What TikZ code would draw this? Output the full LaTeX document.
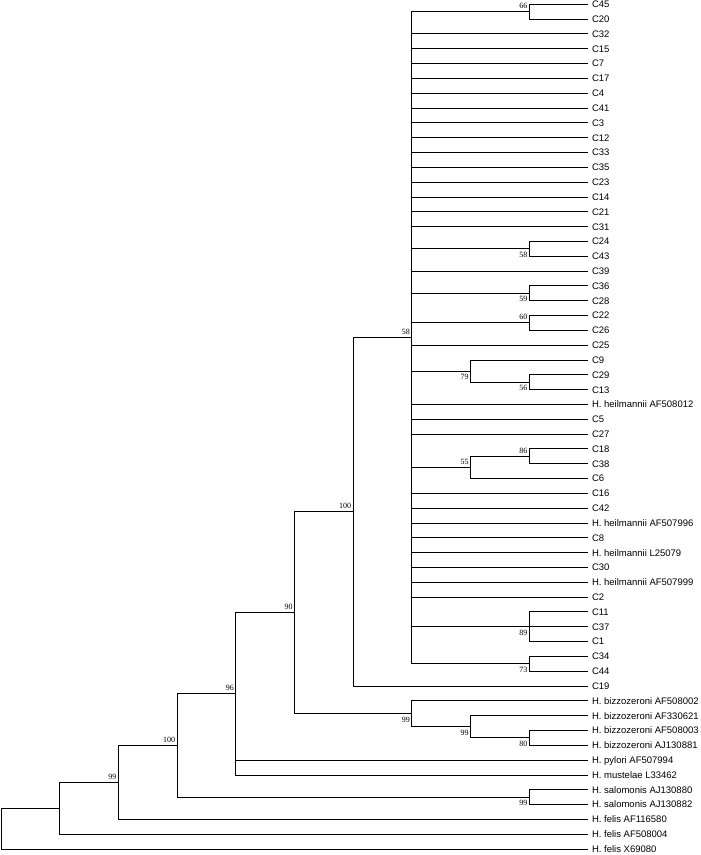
\documentclass[tikz,border=0pt]{standalone}
\usepackage{fontspec}
\setmainfont{Liberation Sans}
\newfontfamily\bsfont{Liberation Serif}
\usetikzlibrary{positioning}

\tikzset{
  branch/.style={line width=0.9pt},
  leaf/.style={anchor=west, inner xsep=4pt, inner ysep=0pt, outer sep=0pt,
    text height=6.8pt, text depth=0pt, font=\fontsize{9.5}{11}\selectfont},
  bsup/.style={anchor=south east, inner xsep=2pt, inner ysep=3.2pt, outer sep=0pt,
    text height=5.4pt, text depth=0pt, font=\bsfont\fontsize{8}{9}\selectfont},
  bsdown/.style={bsup, anchor=north east}
}

\begin{document}
\begin{tikzpicture}[x=1pt, y=-1pt,
    declare function={lx(\k)=1+58.7*\k; ly(\i)=4.3+14.82*\i;}]
    \useasboundingbox (0,0) rectangle (701,855);
    % taxa, top to bottom
    \foreach \name [count=\i from 0] in {C45,C20,C32,C15,C7,C17,C4,C41,C3,C12,C33,C35,C23,C14,C21,C31,
        C24,C43,C39,C36,C28,C22,C26,C25,C9,C29,C13,H. heilmannii AF508012,C5,C27,C18,C38,C6,C16,C42,
        H. heilmannii AF507996,C8,H. heilmannii L25079,C30,H. heilmannii AF507999,C2,C11,C37,C1,C34,C44,C19,
        H. bizzozeroni AF508002,H. bizzozeroni AF330621,H. bizzozeroni AF508003,H. bizzozeroni AJ130881,
        H. pylori AF507994,H. mustelae L33462,H. salomonis AJ130880,H. salomonis AJ130882,
        H. felis AF116580,H. felis AF508004,H. felis X69080} {
        \node[leaf] (l\i) at ({lx(10)},{ly(\i)}) {\name};
    }
    % small clades next to the tips
    \coordinate (n66) at ({lx(9)},{ly(0.5)});
    \coordinate (n58b) at ({lx(9)},{ly(16.5)});
    \coordinate (n59) at ({lx(9)},{ly(19.5)});
    \coordinate (n60) at ({lx(9)},{ly(21.5)});
    \coordinate (n56) at ({lx(9)},{ly(25.5)});
    \coordinate (n86) at ({lx(9)},{ly(30.5)});
    \coordinate (n89) at ({lx(9)},{ly(42)});
    \coordinate (n73) at ({lx(9)},{ly(44.5)});
    \coordinate (n80) at ({lx(9)},{ly(49.5)});
    \coordinate (n99sal) at ({lx(9)},{ly(53.5)});
    \coordinate (n79) at ({lx(8)},{ly(24.75)});
    \coordinate (n55) at ({lx(8)},{ly(31.25)});
    \coordinate (n99biz2) at ({lx(8)},{ly(48.75)});
    % backbone
    \coordinate (n58) at ({lx(7)},{ly(22.5)});
    \coordinate (n99biz) at ({lx(7)},{ly(47.875)});
    \coordinate (n100a) at ({lx(6)},{ly(34.25)});
    \coordinate (n90) at ({lx(5)},{ly(41.0625)});
    \coordinate (n96) at ({lx(4)},{ly(46.53125)});
    \coordinate (n100b) at ({lx(3)},{ly(50.015625)});
    \coordinate (n99) at ({lx(2)},{ly(52.5078)});
    \coordinate (n1) at ({lx(1)},{ly(54.2539)});
    \coordinate (root) at ({lx(0)},{ly(55.627)});

    % branches
    \foreach \a/\b in {n66/l0, n66/l1, n58b/l16, n58b/l17, n59/l19, n59/l20, n60/l21, n60/l22,
        n56/l25, n56/l26, n86/l30, n86/l31, n89/l41, n89/l42, n89/l43, n73/l44, n73/l45,
        n80/l49, n80/l50, n99sal/l53, n99sal/l54, n79/l24, n79/n56, n55/n86, n55/l32,
        n99biz2/l48, n99biz2/n80, n99biz/l47, n99biz/n99biz2}
        \draw[branch] (\a) |- (\b);
    \foreach \c in {n66,l2,l3,l4,l5,l6,l7,l8,l9,l10,l11,l12,l13,l14,l15,n58b,l18,n59,n60,l23,n79,
        l27,l28,l29,n55,l33,l34,l35,l36,l37,l38,l39,l40,n89,n73}
        \draw[branch] (n58) |- (\c);
    \foreach \a/\b in {n100a/n58, n100a/l46, n90/n100a, n90/n99biz, n96/n90, n96/l51, n96/l52,
        n100b/n96, n100b/n99sal, n99/n100b, n99/l55, n1/n99, n1/l56, root/n1, root/l57}
        \draw[branch] (\a) |- (\b);

    % bootstrap values
    \node[bsup] (b66) at (n66) {66};
    \node[bsdown] (b58b) at (n58b) {58};
    \node[bsdown] (b59) at (n59) {59};
    \node[bsup] (b60) at (n60) {60};
    \node[bsdown] (b56) at (n56) {56};
    \node[bsup] (b86) at (n86) {86};
    \node[bsdown] (b89) at (n89) {89};
    \node[bsdown] (b73) at (n73) {73};
    \node[bsdown] (b80) at (n80) {80};
    \node[bsdown] (b99sal) at (n99sal) {99};
    \node[bsdown] (b79) at (n79) {79};
    \node[bsup] (b55) at (n55) {55};
    \node[bsdown] (b99biz2) at (n99biz2) {99};
    \node[bsup] (b58) at (n58) {58};
    \node[bsdown] (b99biz) at (n99biz) {99};
    \node[bsup] (b100a) at (n100a) {100};
    \node[bsup] (b90) at (n90) {90};
    \node[bsup] (b96) at (n96) {96};
    \node[bsup] (b100b) at (n100b) {100};
    \node[bsup] (b99) at (n99) {99};
\end{tikzpicture}
\end{document}
